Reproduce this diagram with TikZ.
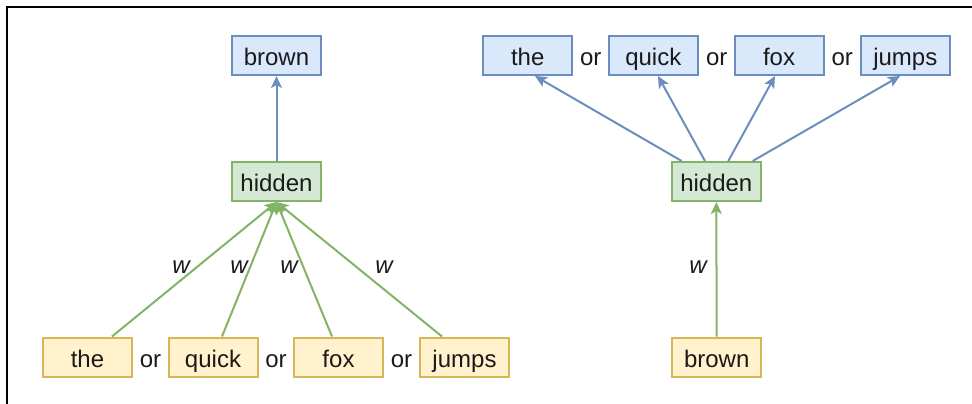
\documentclass[tikz,border=0pt]{standalone}
\usepackage{fontspec}
\setmainfont{Liberation Sans}
\usetikzlibrary{arrows.meta,calc}
\definecolor{bluefill}{HTML}{DAE8FC}
\definecolor{bluedraw}{HTML}{6C8EBF}
\definecolor{greenfill}{HTML}{D5E8D4}
\definecolor{greendraw}{HTML}{82B366}
\definecolor{yellowfill}{HTML}{FFF2CC}
\definecolor{yellowdraw}{HTML}{D6B656}
\definecolor{txt}{HTML}{1A1A1A}
\tikzset{
  word/.style={draw, line width=2pt, minimum width=89pt, minimum height=39pt, inner sep=0pt,
    text height=20.5pt, text depth=0pt,
    font=\fontsize{24}{28}\selectfont, text=txt},
  bluebox/.style={word, fill=bluefill, draw=bluedraw},
  greenbox/.style={word, fill=greenfill, draw=greendraw},
  yellowbox/.style={word, fill=yellowfill, draw=yellowdraw},
  ortext/.style={font=\fontsize{24}{28}\selectfont, text=txt, inner sep=0pt, text height=20.5pt, text depth=0pt},
  wlab/.style={font=\fontsize{24}{28}\selectfont\itshape, text=txt, inner sep=0pt},
  bluearrow/.style={draw=bluedraw, line width=2pt, -{Stealth[length=12pt,width=11pt,inset=3pt]}},
  greenarrow/.style={draw=greendraw, line width=2pt, -{Stealth[length=12pt,width=11pt,inset=3pt]}},
}
\begin{document}
\begin{tikzpicture}[x=1pt,y=-1pt]
\useasboundingbox (0,0) rectangle (972,404);
\draw[line width=2.2pt, line cap=rect] (7,404) -- (7,7) -- (972,7);

% left panel
\node[bluebox] (lbrown) at (276.5,55.5) {brown};
\node[greenbox] (lhidden) at (276.5,181.5) {hidden};
\node[yellowbox] (lthe) at (87.5,357) {the};
\node[yellowbox] (lquick) at (213,357) {quick};
\node[yellowbox] (lfox) at (338.5,357) {fox};
\node[yellowbox] (ljumps) at (464.5,357) {jumps};
\node[ortext] (lor1) at (150.5,357) {or};
\node[ortext] (lor2) at (276,357) {or};
\node[ortext] (lor3) at (401.5,357) {or};

\draw[bluearrow] (lhidden.north) -- (lbrown.south);
\draw[greenarrow] ($(lthe.north)+(24.5,0)$) -- (lhidden.south);
\draw[greenarrow] ($(lquick.north)+(9,0)$) -- (lhidden.south);
\draw[greenarrow] ($(lfox.north)+(-6.5,0)$) -- (lhidden.south);
\draw[greenarrow] ($(ljumps.north)+(-22.5,0)$) -- (lhidden.south);
\node[wlab] (lw1) at (181,267) {w};
\node[wlab] (lw2) at (239,267) {w};
\node[wlab] (lw3) at (289,267) {w};
\node[wlab] (lw4) at (384,267) {w};

% right panel
\node[bluebox] (rthe) at (527.7,55.5) {the};
\node[bluebox] (rquick) at (653.3,55.5) {quick};
\node[bluebox] (rfox) at (779,55.5) {fox};
\node[bluebox] (rjumps) at (905.3,55.5) {jumps};
\node[ortext] (ror1) at (590.7,55.5) {or};
\node[ortext] (ror2) at (716.7,55.5) {or};
\node[ortext] (ror3) at (842.3,55.5) {or};
\node[greenbox] (rhidden) at (716.3,181.5) {hidden};
\node[yellowbox] (rbrown) at (716.7,357) {brown};

\draw[bluearrow] ($(rhidden.north)+(-34.6,0)$) -- ($(rthe.south)+(7.3,0)$);
\draw[bluearrow] ($(rhidden.north)+(-11.3,0)$) -- ($(rquick.south)+(4.7,0)$);
\draw[bluearrow] ($(rhidden.north)+(12,0)$) -- ($(rfox.south)+(-4,0)$);
\draw[bluearrow] ($(rhidden.north)+(36.4,0)$) -- ($(rjumps.south)+(-5.3,0)$);
\draw[greenarrow] (rbrown.north) -- (rhidden.south);
\node[wlab] (rw) at (698,267) {w};
\end{tikzpicture}
\end{document}
